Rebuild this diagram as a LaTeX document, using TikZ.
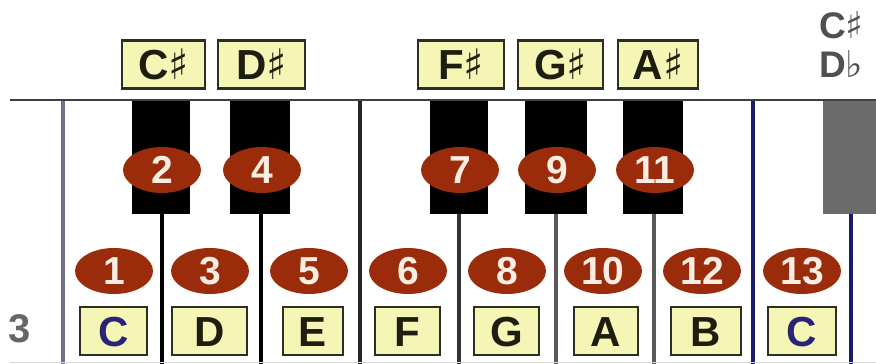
\documentclass[tikz,border=0pt]{standalone}
\usepackage{fontspec}
\setmainfont{Liberation Sans}
\newfontfamily\symfont{DejaVu Sans}
\usetikzlibrary{shapes.geometric}
\definecolor{numred}{HTML}{9A2C0C}
\definecolor{numtext}{HTML}{FCEDE2}
\definecolor{labfill}{HTML}{F5F5B6}
\definecolor{labline}{HTML}{2E2E22}
\definecolor{labtext}{HTML}{1E1E10}
\definecolor{cblue}{HTML}{2A2478}
\definecolor{sepgray}{HTML}{5A5A5A}
\definecolor{sepblue}{HTML}{1C1A6A}
\definecolor{sepleft}{HTML}{6E7090}
\definecolor{keygray}{HTML}{6B6B6B}
\definecolor{txtgray}{HTML}{505050}
\begin{document}
\begin{tikzpicture}[x=1pt,y=-1pt,
 blackkey/.style={fill=black},
 sepline/.style={line width=3.5pt},
 numball/.style={ellipse, fill=numred, text=numtext, minimum width=78pt, minimum height=46pt, inner sep=0pt, text height=27pt, text depth=0pt, font=\fontsize{39}{39}\selectfont\bfseries},
 notelab/.style={draw=labline, line width=2.5pt, fill=labfill, inner sep=0pt, minimum height=48pt, text height=30pt, text depth=0pt, font=\fontsize{42}{42}\selectfont\bfseries, text=labtext},
 sidetext/.style={anchor=north west, inner sep=0pt, text height=26pt, text depth=0pt, text=txtgray, font=\fontsize{37}{37}\selectfont\bfseries},
]
\useasboundingbox (0,0) rectangle (876,364);
\clip (0,0) rectangle (876,364);
\fill[white] (0,0) rectangle (876,364);

% separators
\draw[sepline, draw=sepleft] (63,100) -- (63,364);
\draw[sepline, draw=black] (162,214) -- (162,364);
\draw[sepline, draw=black] (261,214) -- (261,364);
\draw[sepline, draw=black!85] (360,100) -- (360,364);
\draw[sepline, draw=black!80] (459,214) -- (459,364);
\draw[sepline, draw=sepgray] (556,214) -- (556,364);
\draw[sepline, draw=sepgray] (654,214) -- (654,364);
\draw[sepline, draw=sepblue] (753,100) -- (753,364);
\draw[sepline, draw=sepblue] (851,214) -- (851,364);
\draw[line width=1pt, draw=black!15] (10,362.5) -- (876,362.5);

% black keys
\fill[blackkey] (132,100) rectangle (190,214);
\fill[blackkey] (230,100) rectangle (290,214);
\fill[blackkey] (430,100) rectangle (488,214);
\fill[blackkey] (525,100) rectangle (587,214);
\fill[blackkey] (623,100) rectangle (683,214);
\fill[keygray] (823,100) rectangle (876,214);

% top line
\draw[line width=2.5pt, draw=black!75] (10,100) -- (876,100);

% upper number balls
\node[numball] (n2) at (162,170) {2};
\node[numball] (n4) at (262,170) {4};
\node[numball] (n7) at (460,170) {7};
\node[numball] (n9) at (557,170) {9};
\node[numball] (n11) at (655,170) {11};

% lower number balls
\node[numball] (n1) at (114,271) {1};
\node[numball] (n3) at (210,271) {3};
\node[numball] (n5) at (309,271) {5};
\node[numball] (n6) at (408,271) {6};
\node[numball] (n8) at (507,271) {8};
\node[numball] (n10) at (603,271) {10};
\node[numball] (n12) at (702,271) {12};
\node[numball] (n13) at (802,271) {13};

% upper labels
\node[notelab, minimum width=83pt] (lcs) at (163.5,64.5) {C{\symfont\bfseries ♯}};
\node[notelab, minimum width=87pt] (lds) at (261.5,64.5) {D{\symfont\bfseries ♯}};
\node[notelab, minimum width=86pt] (lfs) at (461,64.5) {F{\symfont\bfseries ♯}};
\node[notelab, minimum width=85pt] (lgs) at (560.5,64.5) {G{\symfont\bfseries ♯}};
\node[notelab, minimum width=80pt] (las) at (658,64.5) {A{\symfont\bfseries ♯}};

% lower labels
\node[notelab, minimum width=67pt, text=cblue] (lc) at (113.5,331) {C};
\node[notelab, minimum width=75pt] (ld) at (209.5,331) {D};
\node[notelab, minimum width=60pt] (le) at (313,331) {E};
\node[notelab, minimum width=65pt] (lf) at (407.5,331) {F};
\node[notelab, minimum width=65pt] (lg) at (506.5,331) {G};
\node[notelab, minimum width=64pt] (la) at (606,331) {A};
\node[notelab, minimum width=70pt] (lb) at (706,331) {B};
\node[notelab, minimum width=68pt, text=cblue] (lc2) at (802,331) {C};

% side texts
\node[sidetext] (tcs) at (819,12) {C{\symfont\bfseries ♯}};
\node[sidetext] (tdb) at (819,51) {D{\symfont\bfseries ♭}};
\node[sidetext, text height=29pt, font=\fontsize{40}{40}\selectfont\bfseries, text=black!60] (tb) at (8,313) {3};
\end{tikzpicture}
\end{document}
